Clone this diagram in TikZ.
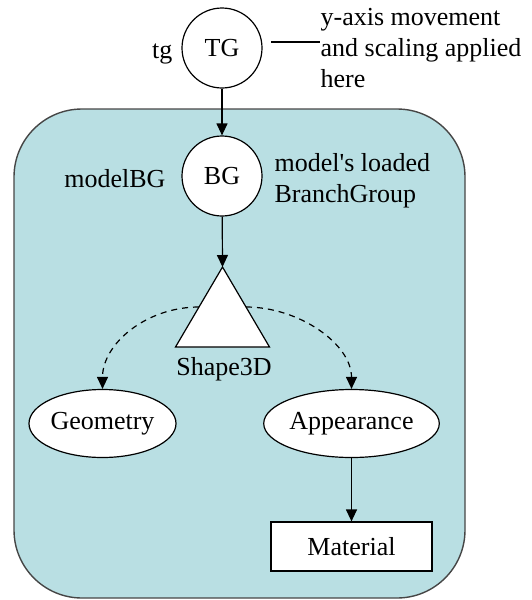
\documentclass[tikz,border=0pt]{standalone}
\usepackage{fontspec}
\setmainfont{Liberation Serif}
\usepackage{xcolor}
\usepackage{tikz}
\usetikzlibrary{arrows.meta}
\usetikzlibrary{shapes.geometric}
\definecolor{groupfill}{RGB}{185,223,227}
\definecolor{groupline}{RGB}{70,70,70}
\tikzset{>={Triangle[length=12pt,width=11pt]}}

\begin{document}
\begin{tikzpicture}[x=1pt, y=-1pt, line width=1.2pt, font=\fontsize{26}{31}\selectfont]
\tikzset{groupnode/.style={draw, circle, fill=white, minimum size=80pt, inner sep=0pt}}
\tikzset{leafnode/.style={draw, ellipse, fill=white, minimum width=145pt, minimum height=68pt, inner sep=0pt}}
\tikzset{refedge/.style={->, dash pattern=on 6pt off 5pt}}
\tikzset{plain/.style={inner sep=0pt}}
    \useasboundingbox (0,0) rectangle (531,600);

    \node[draw=groupline, fill=groupfill, rounded corners=68pt, line width=1.4pt,
          minimum width=451pt, minimum height=489pt] (modelbox) at (239.5,353.5) {};

    \node[groupnode] (tg) at (222,48) {TG};
    \node[groupnode] (bg) at (222,176) {BG};

    \coordinate (Tapex) at (222.5,267);
    \coordinate (Tleft) at (175.5,347);
    \coordinate (Tright) at (269.5,347);
    \coordinate (Tl) at (199,307);
    \coordinate (Tr) at (246,307);

    \node[leafnode] (geom) at (102.5,423.5) {Geometry};
    \node[leafnode] (app) at (351.5,423.5) {Appearance};
    \node[draw, fill=white, minimum width=161pt, minimum height=49pt, inner sep=0pt] (mat) at (351.5,546.5) {Material};

% % % % % % % % % % % % % % % % % % %
    \node[plain, anchor=base east] (tglbl) at (173,58) {tg};
    \node[plain, anchor=base east] (bglbl) at (166,187) {modelBG};
    \node[plain, anchor=north west, align=left] (bgnote) at (274,153) {model\textquotesingle s loaded\\BranchGroup};
    \node[plain, anchor=north west, align=left] (tgnote) at (320,8) {y-axis movement\\and scaling applied\\here};
    \node[plain, anchor=base] (shapelbl) at (224,375) {Shape3D};

    \coordinate (tgline) at (271,42);
    \draw (tgline) -- (tgnote.west |- tgline);

    \draw[->] (tg) -- (bg);
    \draw[->] (bg) -- (Tapex);
    \draw[->] (app) -- (mat);

    \draw[refedge] (Tl) .. controls (146,307) and (102.5,344) .. (geom.north);
    \draw[refedge] (Tr) .. controls (299,307) and (351.5,344) .. (app.north);

    \filldraw[fill=white] (Tapex) -- (Tright) -- (Tleft) -- cycle;

\end{tikzpicture}
\end{document}
